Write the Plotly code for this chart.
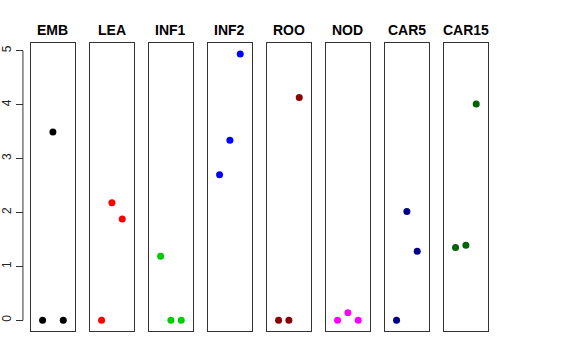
import plotly.graph_objects as go

categories = ["EMB", "LEA", "INF1", "INF2", "ROO", "NOD", "CAR5", "CAR15"]
positions = [1, 2, 3]
emb = [0, 3.49, 0]
lea = [0, 2.18, 1.88]
inf1 = [1.19, 0, 0]
inf2 = [2.70, 3.34, 4.94]
roo = [0, 0, 4.13]
nod = [0, 0.14, 0]
car5 = [0, 2.02, 1.28]
car15 = [1.35, 1.39, 4.01]
series = [emb, lea, inf1, inf2, roo, nod, car5, car15]
colors = ["#000000", "#FF0000", "#00CD00", "#0000FF", "#8B0000", "#FF00FF", "#00008B", "#006400"]
y_ticks = [0, 1, 2, 3, 4, 5]

W, H = 576, 360
left0, pitch, pw = 28.7, 59.2, 44.8
top_px, bot_px = 43.3, 331.0
y_range = [-0.198, 5.137]
x_range = [-0.16, 4.16]

fig = go.Figure()
annotations = []
shapes = []
for i, (cat, vals, col) in enumerate(zip(categories, series, colors)):
    n = "" if i == 0 else str(i + 1)
    x0 = (left0 + i * pitch) / W
    x1 = (left0 + i * pitch + pw) / W
    fig.add_trace(go.Scatter(x=positions, y=vals, mode="markers",
                             marker=dict(color=col, size=7, line=dict(width=0)),
                             xaxis="x" + n, yaxis="y" + n, showlegend=False,
                             hoverinfo="y"))
    fig.layout["xaxis" + n] = dict(domain=[x0, x1], range=x_range, showgrid=False,
                                  zeroline=False, showticklabels=False, ticks="",
                                  showline=True, mirror=True, linecolor="#333333",
                                  linewidth=1, anchor="y" + n)
    yax = dict(domain=[1 - bot_px / H, 1 - top_px / H], range=y_range, showgrid=False,
               zeroline=False, showline=True, mirror=True, linecolor="#333333",
               linewidth=1, anchor="x" + n, showticklabels=False, ticks="")
    fig.layout["yaxis" + n] = yax
    annotations.append(dict(text="<b>" + cat + "</b>", x=(x0 + x1) / 2, y=1 - 29.5 / H,
                            xref="paper", yref="paper", showarrow=False,
                            font=dict(size=14, color="black",
                                      family="Liberation Sans, Arial, sans-serif"),
                            xanchor="center", yanchor="middle"))

# left tick axis (R-style, offset from panel)
fig.add_trace(go.Scatter(x=[None], y=[None], xaxis="x", yaxis="y9", showlegend=False))
fig.layout["yaxis9"] = dict(domain=[1 - bot_px / H, 1 - top_px / H], range=y_range,
                            overlaying="y", anchor="free", position=21 / W,
                            showgrid=False, zeroline=False, showline=False,
                            tickvals=y_ticks, ticktext=[str(t) for t in y_ticks],
                            ticks="outside", ticklen=7, tickcolor="#333333",
                            tickangle=-90, tickfont=dict(size=12, color="#222222",
                                                         family="Liberation Sans, Arial, sans-serif"))
shapes.append(dict(type="line", xref="paper", yref="y", x0=21 / W, x1=21 / W,
                   y0=y_ticks[0], y1=y_ticks[-1], line=dict(color="#333333", width=1)))

fig.update_layout(width=W, height=H, margin=dict(l=0, r=0, t=0, b=0),
                  paper_bgcolor="white", plot_bgcolor="white",
                  annotations=annotations, shapes=shapes,
                  font=dict(family="Liberation Sans, Arial, sans-serif"))
fig.write_html("out.html", config={"displayModeBar": False},
               post_script="document.body.style.margin='0';document.body.style.padding='0';")
